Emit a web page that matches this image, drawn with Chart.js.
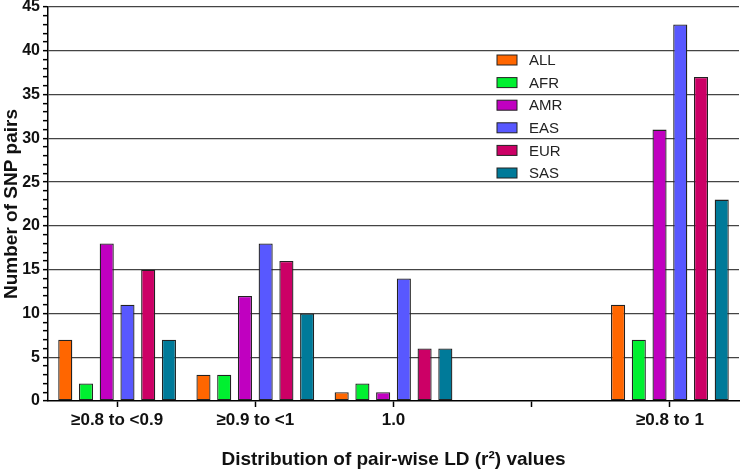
<!DOCTYPE html>
<html>
<head>
<meta charset="utf-8">
<script src="https://cdn.jsdelivr.net/npm/chart.js@4"></script>
<style>
  html, body { margin: 0; padding: 0; background: #fff; }
  #wrap { width: 740px; height: 473px; }
</style>
</head>
<body>
<div id="wrap"><canvas id="bars"></canvas></div>
<script>
const categories = ['\u22650.8 to <0.9', '\u22650.9 to <1', '1.0', '', '\u22650.8 to 1'];

const allPop = [7, 3, 1, null, 11];
const afr = [2, 3, 2, null, 7];
const amr = [18, 12, 1, null, 31];
const eas = [11, 18, 14, null, 43];
const eur = [15, 16, 6, null, 37];
const sas = [7, 10, 6, null, 23];

const seriesNames = ['ALL', 'AFR', 'AMR', 'EAS', 'EUR', 'SAS'];
const seriesColors = ['#ff6600', '#00f030', '#c000c0', '#5858ff', '#cc0066', '#007a99'];

const FONT = '"Liberation Sans", Arial, sans-serif';

const insideLegend = {
  id: 'insideLegend',
  afterDraw(chart) {
    const ctx = chart.ctx;
    ctx.save();
    chart.data.datasets.forEach((ds, i) => {
      const y = 60 + i * 22.6;
      ctx.fillStyle = ds.backgroundColor;
      ctx.strokeStyle = '#222';
      ctx.lineWidth = 1;
      ctx.fillRect(497, y - 5, 20, 10);
      ctx.strokeRect(497, y - 5, 20, 10);
      ctx.fillStyle = '#222';
      ctx.font = '15px ' + FONT;
      ctx.textBaseline = 'middle';
      ctx.fillText(ds.label, 529, y + 1);
    });
    ctx.restore();
  },
};

const initBars = () => {
  const values = [allPop, afr, amr, eas, eur, sas];

  const data = {
    labels: categories,
    datasets: values.map((v, i) => ({
      label: seriesNames[i],
      data: v,
      backgroundColor: seriesColors[i],
      borderColor: '#222',
      borderWidth: 1.3,
      borderSkipped: false,
      categoryPercentage: 0.9,
      barPercentage: 0.68,
    })),
  };

  const config = {
    type: 'bar',
    data: data,
    plugins: [insideLegend],
    options: {
      responsive: true,
      maintainAspectRatio: false,
      animation: false,
      layout: { padding: { top: 7, right: 1, left: 0, bottom: 0 } },
      plugins: {
        legend: { display: false },
        tooltip: { enabled: false },
      },
      scales: {
        x: {
          grid: {
            drawOnChartArea: false,
            offset: false,
            tickLength: 6,
            tickWidth: 1.5,
            tickColor: '#000',
          },
          border: { color: '#000', width: 1.5 },
          ticks: {
            color: '#111',
            padding: 3,
            font: { family: FONT, size: 17, weight: 'bold' },
          },
          title: {
            display: true,
            text: 'Distribution of pair-wise LD (r\u00b2) values',
            color: '#111',
            padding: { top: 22, bottom: 2 },
            font: { family: FONT, size: 19, weight: 'bold' },
          },
          afterFit: (scale) => { scale.height = 72; },
        },
        y: {
          min: 0,
          max: 45,
          ticks: {
            stepSize: 1,
            autoSkip: false,
            color: '#111',
            padding: 3,
            callback: (v) => (v % 5 === 0 ? v : ''),
            font: { family: FONT, size: 16, weight: 'bold' },
          },
          grid: {
            color: (c) => (c.tick && c.tick.value % 5 === 0 && c.tick.value > 0 ? '#444' : 'rgba(0,0,0,0)'),
            lineWidth: 1.3,
            tickColor: '#000',
            tickLength: 5,
            tickWidth: 1.5,
          },
          border: { color: '#000', width: 1.5 },
          title: {
            display: true,
            text: 'Number of SNP pairs',
            color: '#111',
            padding: { top: 0, bottom: 1 },
            font: { family: FONT, size: 19, weight: 'bold' },
          },
          afterFit: (scale) => {
            scale.width = 48;
            scale.paddingTop = 0;
            scale.paddingBottom = 0;
          },
        },
      },
    },
  };

  new Chart(document.getElementById('bars'), config);
};

document.addEventListener('DOMContentLoaded', () => {
  if (!document.querySelector('#bars')) return;
  initBars();
});
</script>
</body>
</html>
